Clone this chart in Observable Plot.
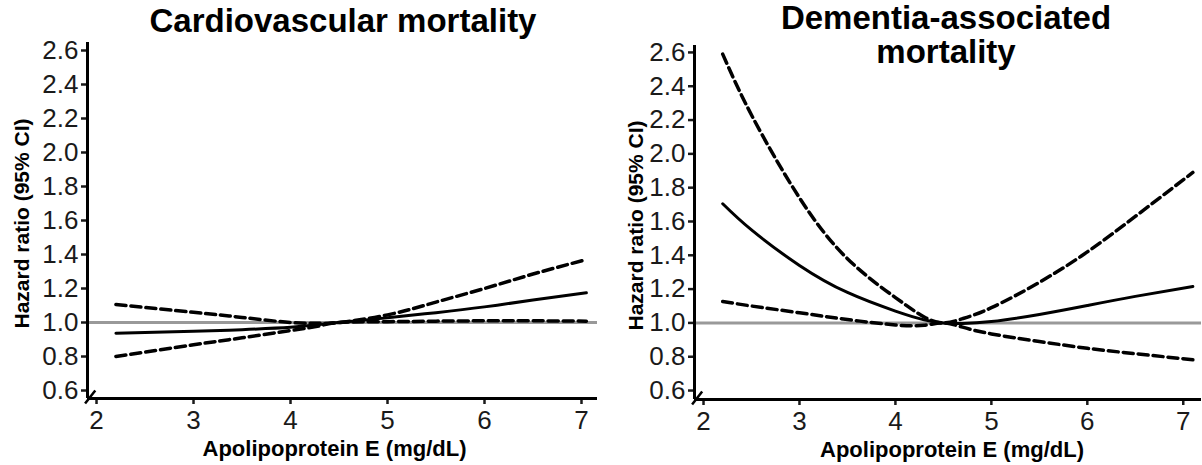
<!DOCTYPE html>
<html><head><meta charset="utf-8">
<script src="https://cdn.jsdelivr.net/npm/d3@7"></script>
<script src="https://cdn.jsdelivr.net/npm/@observablehq/plot@0.6"></script>
<style>
body{margin:0;background:#fff;font-family:"Liberation Sans",Arial,sans-serif;}
#wrap{position:relative;width:1202px;height:465px;display:flex;}
.title{position:absolute;font-weight:bold;font-size:33px;text-align:center;line-height:34px;color:#000;}
</style></head><body>
<div id="wrap"></div>
<script>
// ---- data ----
const titles = ["Cardiovascular mortality", "Dementia-associated\nmortality"];
const xLabel = "Apolipoprotein E (mg/dL)";
const yLabel = "Hazard ratio (95% CI)";
const xTicks = [2, 3, 4, 5, 6, 7];
const yTicks = [0.6, 0.8, 1.0, 1.2, 1.4, 1.6, 1.8, 2.0, 2.2, 2.4, 2.6];

// Cardiovascular mortality
const cvApoE  = [2.2, 3.0, 3.5, 4.0, 4.3, 4.5, 5.0, 5.5, 6.0, 6.5, 7.05];
const cvHR    = [0.937, 0.948, 0.958, 0.972, 0.988, 1.0, 1.028, 1.058, 1.092, 1.132, 1.175];
const cvUpper = [1.106, 1.06, 1.03, 1.0, 0.995, 1.0, 1.045, 1.12, 1.20, 1.285, 1.37];
const cvLower = [0.80, 0.869, 0.91, 0.953, 0.98, 1.0, 1.005, 1.008, 1.01, 1.01, 1.008];

// Dementia-associated mortality
const dmApoE  = [2.2, 2.5, 3.0, 3.5, 4.0, 4.3, 4.5, 4.7, 5.0, 5.5, 6.0, 6.5, 7.1];
const dmHR    = [1.705, 1.55, 1.34, 1.18, 1.07, 1.018, 1.0, 0.997, 1.008, 1.05, 1.103, 1.157, 1.216];
const dmUpper = [2.59, 2.23, 1.74, 1.38, 1.15, 1.035, 1.0, 1.025, 1.09, 1.24, 1.42, 1.63, 1.89];
const dmLower = [1.127, 1.10, 1.06, 1.02, 0.988, 0.986, 1.0, 0.975, 0.935, 0.89, 0.85, 0.818, 0.782];

// ---- layout ----
const panels = [
  {x: cvApoE, hr: cvHR, up: cvUpper, lo: cvLower, xDomain: [1.907, 7.165], yDomain: [0.553, 2.647],
   mL: 87, mR: 4, mT: 42, mB: 67, yLabDx: -65, xLabDx: -8, titleLeft: 88, titleTop: 4},
  {x: dmApoE, hr: dmHR, up: dmUpper, lo: dmLower, xDomain: [1.906, 7.19], yDomain: [0.547, 2.641],
   mL: 93, mR: 1, mT: 45, mB: 66, yLabDx: -58, xLabDx: 4, titleLeft: 691, titleTop: 1}
];

const FONT = '"Liberation Sans", Arial, sans-serif';
const wrap = document.getElementById("wrap");
panels.forEach((p, i) => {
  const rows = (ys) => p.x.map((x, j) => ({x, y: ys[j]}));
  const x0 = p.xDomain[0], y0 = p.yDomain[0];
  const chart = Plot.plot({
    width: 601, height: 465,
    marginLeft: p.mL, marginRight: p.mR, marginTop: p.mT, marginBottom: p.mB,
    x: {domain: p.xDomain},
    y: {domain: p.yDomain},
    style: {fontFamily: FONT, color: "#1a1a1a", background: "#fff"},
    marks: [
      Plot.ruleY([1], {stroke: "#999", strokeWidth: 3}),
      Plot.line(rows(p.up), {x: "x", y: "y", stroke: "#000", strokeWidth: 3.5, strokeDasharray: "10,5", curve: "natural"}),
      Plot.line(rows(p.lo), {x: "x", y: "y", stroke: "#000", strokeWidth: 3.5, strokeDasharray: "10,5", curve: "natural"}),
      Plot.line(rows(p.hr), {x: "x", y: "y", stroke: "#000", strokeWidth: 3, curve: "natural"}),
      Plot.axisX({ticks: xTicks, tickSize: 6, strokeWidth: 2.5, text: null, label: null}),
      Plot.axisY({ticks: yTicks, tickSize: 6, strokeWidth: 2.5, text: null, label: null}),
      Plot.text(xTicks, {x: d => d, text: d => String(d), frameAnchor: "bottom", dy: 22, fontSize: 26, fill: "#1a1a1a", lineAnchor: "middle"}),
      Plot.text(yTicks, {y: d => d, text: d => d.toFixed(1), frameAnchor: "left", dx: -9, textAnchor: "end", fontSize: 26, fill: "#1a1a1a", lineAnchor: "middle"}),
      Plot.ruleX([x0], {stroke: "#000", strokeWidth: 3}),
      Plot.ruleY([y0], {stroke: "#000", strokeWidth: 3}),
      Plot.link([0], {x1: () => x0 - 0.025, y1: () => y0 - 0.03, x2: () => x0 + 0.08, y2: () => y0 + 0.047, stroke: "#000", strokeWidth: 2.5}),
      Plot.text([yLabel], {text: d => d, frameAnchor: "left", rotate: -90, dx: p.yLabDx, dy: 3, textAnchor: "middle", lineAnchor: "middle", fontWeight: "bold", fontSize: 21, fill: "#000"}),
      Plot.text([xLabel], {text: d => d, frameAnchor: "bottom", dy: 50, dx: p.xLabDx, textAnchor: "middle", lineAnchor: "middle", fontWeight: "bold", fontSize: 22, fill: "#000"})
    ]
  });
  wrap.appendChild(chart);
  const t = document.createElement("div");
  t.className = "title";
  t.style.left = p.titleLeft + "px";
  t.style.top = p.titleTop + "px";
  t.style.width = "510px";
  t.innerHTML = titles[i].replace("\n", "<br>");
  wrap.appendChild(t);
});
</script>
</body></html>
